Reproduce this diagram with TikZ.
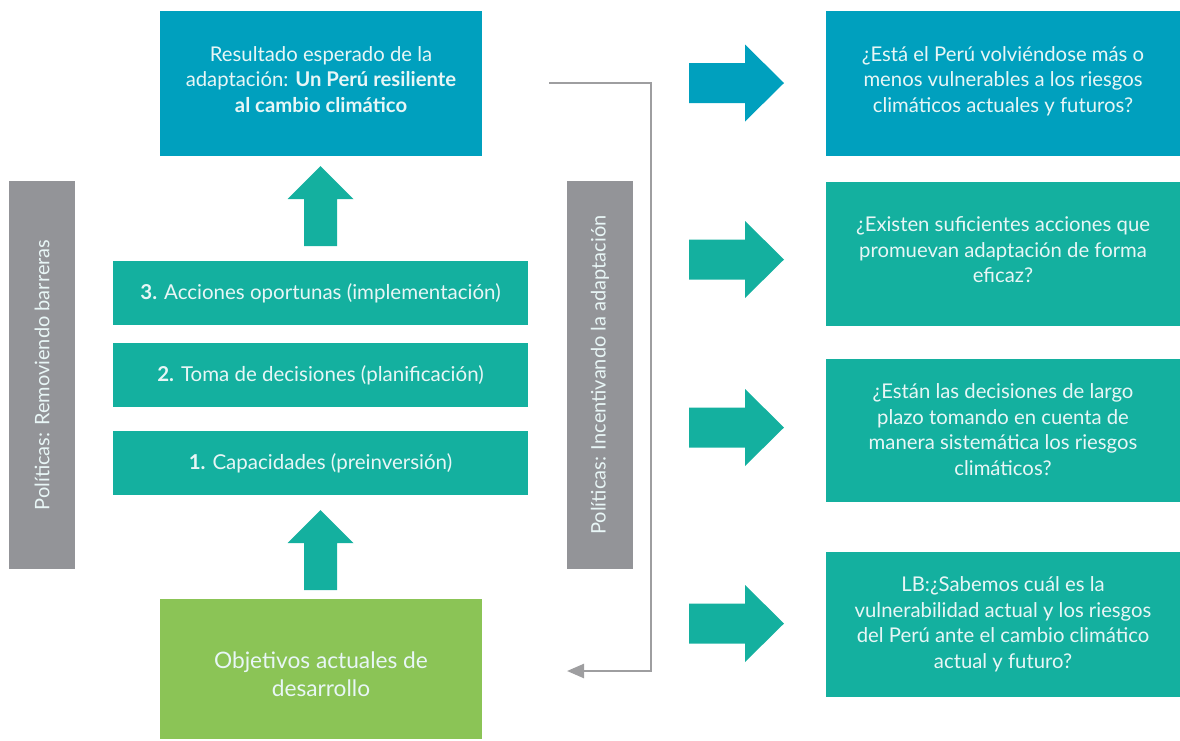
\documentclass[tikz,border=0pt]{standalone}
\usepackage{fontspec}
\setmainfont{Lato}
\usetikzlibrary{arrows.meta}
\definecolor{cblue}{RGB}{0,160,190}
\definecolor{cteal}{RGB}{20,176,159}
\definecolor{cgreen}{RGB}{139,196,86}
\definecolor{cgray}{RGB}{147,148,152}
\definecolor{cline}{RGB}{158,158,160}
\definecolor{ctext}{RGB}{232,246,246}
\tikzset{
  box/.style={draw=none, inner sep=0pt, align=center, text=ctext,
    font=\fontsize{20.3}{25.5}\selectfont},
  txt/.style={inner sep=0pt, align=center, text=ctext,
    font=\fontsize{20.3}{25.5}\selectfont},
  bar/.style={fill=cgray, draw=none, inner sep=0pt, text=ctext, rotate=90,
    font=\fontsize{20}{25.5}\selectfont},
  conn/.style={draw=cline, line width=2.5pt, -{Triangle[length=17pt,width=14pt]}},
  pics/rarr/.style={code={\fill[#1] (-47.5,-20) -- (8.5,-20) -- (8.5,-38.5) -- (47.5,0) -- (8.5,38.5) -- (8.5,20) -- (-47.5,20) -- cycle;}},
  pics/uarr/.style={code={\fill[cteal] (-16.5,40) -- (-16.5,-7) -- (-33,-7) -- (0,-40) -- (33,-7) -- (16.5,-7) -- (16.5,40) -- cycle;}}
}
\begin{document}
\begin{tikzpicture}[x=1pt,y=-1pt]
\useasboundingbox (0,0) rectangle (1180,740);
% left column
\node[box, fill=cblue, minimum width=322pt, minimum height=145pt] (res) at (321,83.5) {};
\node[txt] (rest) at ([yshift=4pt]res.center)
  {Resultado esperado de la\\adaptación: \textbf{Un Perú resiliente}\\\textbf{al cambio climático}};
\node[box, fill=cteal, minimum width=415pt, minimum height=64pt, font=\fontsize{20.5}{25.5}\selectfont] (s3) at (320.5,293)
  {\textbf{3.} Acciones oportunas (implementación)};
\node[box, fill=cteal, minimum width=415pt, minimum height=64pt, font=\fontsize{20.5}{25.5}\selectfont] (s2) at (320.5,375)
  {\textbf{2.} Toma de decisiones (planificación)};
\node[box, fill=cteal, minimum width=415pt, minimum height=64pt, font=\fontsize{20.5}{25.5}\selectfont] (s1) at (320.5,463)
  {\textbf{1.} Capacidades (preinversión)};
\node[box, fill=cgreen, minimum width=322pt, minimum height=140pt] (obj) at (321,669) {};
\node[txt, font=\fontsize{22.7}{28}\selectfont] (objt) at ([yshift=-5pt]obj.center)
  {Objetivos actuales de\\desarrollo};
\pic at (320.5,206) {uarr};
\pic at (320.5,550) {uarr};
% gray bars
\node[bar, minimum width=388pt, minimum height=66pt] (b1) at (42,375) {Políticas: Removiendo barreras};
\node[bar, minimum width=388pt, minimum height=66pt] (b2) at (600,375) {Políticas: Incentivando la adaptación};
% connector
\coordinate (cs) at (549,83);
\coordinate (ce) at (567,671);
\draw[conn] (cs) -- (651,83) -- (651,671) -- (ce);
% right arrows
\pic at (736.5,83) {rarr=cblue};
\pic at (736.5,259.5) {rarr=cteal};
\pic at (736.5,427.5) {rarr=cteal};
\pic at (736.5,623.5) {rarr=cteal};
% right boxes
\node[box, fill=cblue, minimum width=354pt, minimum height=145pt] (q1) at (1003,83.5) {};
\node[txt] (q1t) at ([yshift=2.5pt]q1.center)
  {¿Está el Perú volviéndose más o\\menos vulnerables a los riesgos\\climáticos actuales y futuros?};
\node[box, fill=cteal, minimum width=354pt, minimum height=144pt] (q2) at (1003,254) {};
\node[txt] (q2t) at ([yshift=4pt]q2.center)
  {¿Existen suficientes acciones que\\promuevan adaptación de forma\\eficaz?};
\node[box, fill=cteal, minimum width=354pt, minimum height=143pt] (q3) at (1003,430.5) {};
\node[txt] (q3t) at ([yshift=1pt]q3.center)
  {¿Están las decisiones de largo\\plazo tomando en cuenta de\\manera sistemática los riesgos\\climáticos?};
\node[box, fill=cteal, minimum width=354pt, minimum height=145pt] (q4) at (1003,624.5) {};
\node[txt] (q4t) at ([yshift=0pt]q4.center)
  {LB:¿Sabemos cuál es la\\vulnerabilidad actual y los riesgos\\del Perú ante el cambio climático\\actual y futuro?};
\end{tikzpicture}
\end{document}
